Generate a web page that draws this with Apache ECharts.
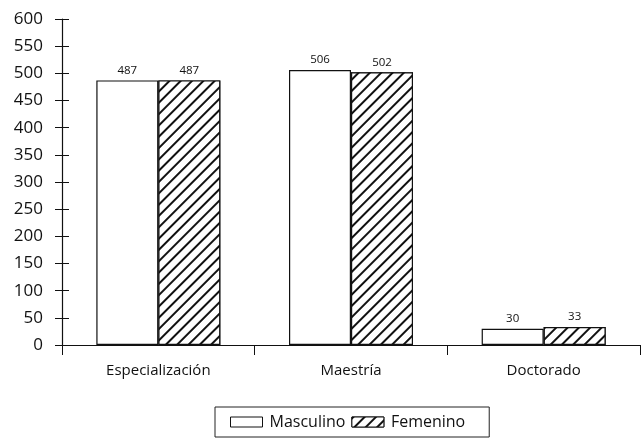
<!DOCTYPE html>
<html><head><meta charset="utf-8">
<script src="https://cdn.jsdelivr.net/npm/echarts@6/dist/echarts.min.js"></script>
<style>html,body{margin:0;padding:0;background:#fff}#c{width:641px;height:448px}</style>
</head><body><div id="c"></div>
<script>
const categories = ['Especialización', 'Maestría', 'Doctorado'];
const masculino = [487, 506, 30];
const femenino = [487, 502, 33];
const seriesNames = ['Masculino', 'Femenino'];
const yTicks = {min: 0, max: 600, interval: 50};

const font = 'Open Sans';
const chart = echarts.init(document.getElementById('c'));
const hatch = {
  symbol: 'rect', symbolSize: 1, color: '#111', backgroundColor: '#fff',
  dashArrayX: [1, 0], dashArrayY: [1.5, 6], rotation: -Math.PI / 4
};
chart.setOption({
  animation: false,
  textStyle: {fontFamily: font},
  grid: {left: 62, right: 1, top: 19, bottom: 103},
  legend: {
    bottom: 11, left: 215, icon: 'rect', itemWidth: 32, itemHeight: 10, itemGap: 6,
    borderColor: '#222', borderWidth: 1, padding: [7, 24, 7, 15],
    textStyle: {fontSize: 16, color: '#111', fontFamily: font, padding: [0, 0, 0, 2]},
    data: [
      {name: seriesNames[0], itemStyle: {color: '#fff', borderColor: '#111', borderWidth: 1}},
      {name: seriesNames[1], itemStyle: {color: '#fff', borderColor: '#111', borderWidth: 1, decal: hatch}}
    ]
  },
  xAxis: {
    type: 'category', data: categories,
    axisLine: {lineStyle: {color: '#111', width: 1.2}},
    axisTick: {show: true, length: 10, lineStyle: {color: '#111'}},
    axisLabel: {color: '#111', fontSize: 15, margin: 18, fontFamily: font}
  },
  yAxis: [{
    type: 'value', min: yTicks.min, max: yTicks.max, interval: yTicks.interval,
    splitLine: {show: false},
    axisLine: {show: true, lineStyle: {color: '#111', width: 1.2}},
    axisTick: {show: false},
    axisLabel: {color: '#111', fontSize: 17, margin: 19, fontFamily: font}
  }, {
    type: 'value', position: 'left', offset: -7, min: yTicks.min, max: yTicks.max, interval: yTicks.interval,
    splitLine: {show: false},
    axisLine: {show: false},
    axisTick: {show: true, length: 14, lineStyle: {color: '#111'}},
    axisLabel: {show: false}
  }],
  series: [{
    name: seriesNames[0], type: 'bar', data: masculino, barWidth: 62, barGap: '0%',
    itemStyle: {color: '#fff', borderColor: '#111', borderWidth: 1.2},
    label: {show: true, position: 'top', fontSize: 11.5, color: '#111', distance: 4}
  }, {
    name: seriesNames[1], type: 'bar', data: femenino, barWidth: 62,
    itemStyle: {color: '#fff', borderColor: '#111', borderWidth: 1.2, decal: hatch},
    label: {show: true, position: 'top', fontSize: 11.5, color: '#111', distance: 4}
  }]
});
</script></body></html>
